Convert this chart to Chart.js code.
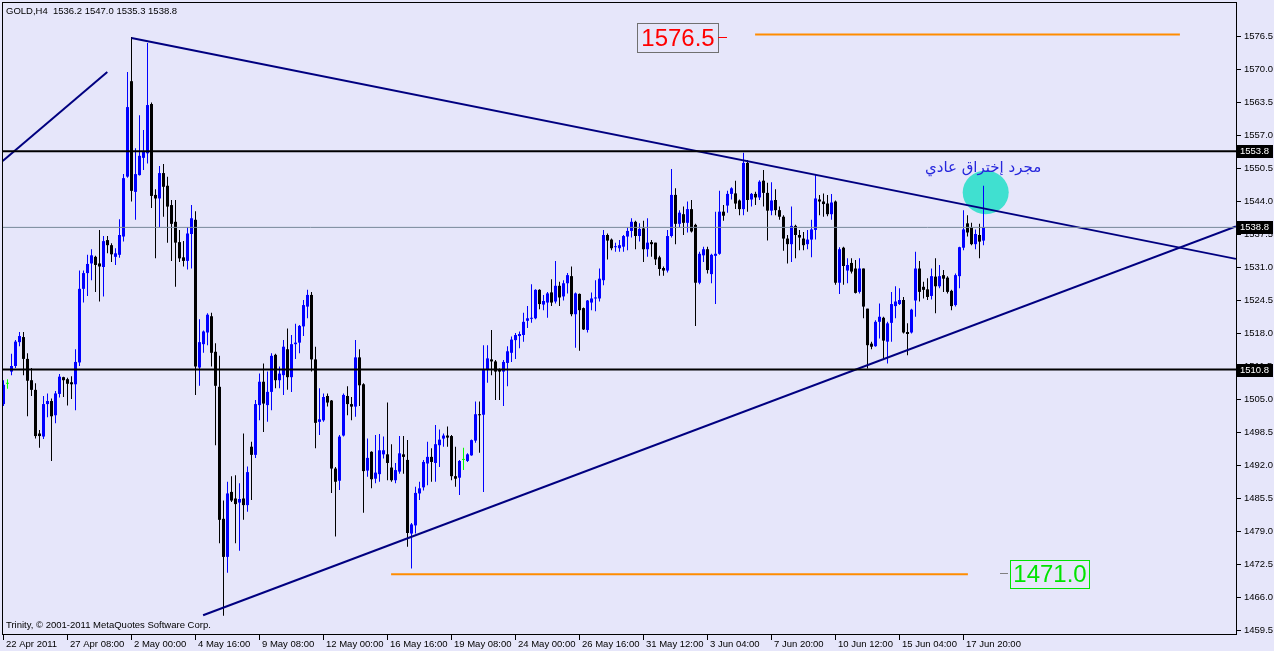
<!DOCTYPE html>
<html><head><meta charset="utf-8">
<script src="https://cdn.jsdelivr.net/npm/chart.js@4.4.0/dist/chart.umd.min.js"></script>
<style>html,body{margin:0;padding:0;background:#E6E6FA;overflow:hidden}canvas{display:block}</style>
</head><body>
<canvas id="c" width="1274" height="651"></canvas>
<script>
const SYMBOL = 'GOLD,H4';
const FOOTER = 'Trinity, \u00A9 2001-2011 MetaQuotes Software Corp.';
const NOTE = 'مجرد إختراق عادي';

const OPEN = [1504.0,1508.0,1510.4,1511.5,1516.2,1517.2,1512.9,1508.7,1506.8,1498.2,
1497.6,1504.0,1504.6,1501.8,1506.0,1509.3,1508.9,1508.3,1507.9,1512.2,
1526.7,1529.8,1531.7,1533.0,1531.7,1531.0,1536.3,1535.3,1533.0,1533.4,
1537.0,1548.8,1567.6,1545.8,1549.1,1552.5,1553.4,1563.1,1545.2,1544.5,
1549.5,1547.0,1543.2,1539.9,1535.9,1532.9,1532.2,1537.5,1540.3,1511.2,
1515.8,1518.1,1521.3,1514.3,1507.4,1481.4,1473.9,1486.7,1485.4,1484.6,
1485.4,1484.1,1495.6,1494.0,1503.8,1508.4,1503.8,1506.4,1513.7,1508.7,
1509.7,1514.8,1509.3,1515.8,1516.1,1519.3,1523.2,1525.5,1512.8,1500.5,
1500.8,1505.6,1504.7,1491.3,1488.9,1497.8,1505.6,1504.0,1503.5,1513.2,
1507.9,1490.9,1494.6,1489.3,1490.2,1494.1,1494.1,1491.5,1489.0,1490.7,
1494.1,1493.0,1478.5,1480.1,1486.4,1487.6,1492.3,1493.6,1492.4,1495.9,
1497.2,1497.8,1497.7,1489.8,1489.5,1493.0,1492.8,1493.9,1496.8,1502.0,
1501.9,1510.7,1512.8,1512.4,1510.8,1510.4,1512.1,1514.1,1516.6,1517.4,
1517.6,1520.4,1520.8,1520.9,1526.5,1523.6,1524.0,1526.0,1524.2,1527.3,
1525.2,1527.8,1529.2,1521.7,1525.7,1522.9,1518.6,1524.0,1524.8,1524.8,
1528.4,1537.3,1536.4,1534.9,1534.7,1535.0,1537.0,1538.1,1539.9,1537.1,
1538.6,1534.5,1535.9,1535.8,1532.9,1530.8,1530.3,1537.1,1545.2,1539.5,
1541.4,1539.7,1542.4,1539.3,1527.9,1533.3,1534.5,1529.6,1533.2,1533.6,
1541.9,1543.1,1545.4,1545.5,1544.1,1542.4,1551.5,1544.3,1545.4,1544.7,
1548.0,1545.6,1542.1,1544.2,1542.2,1540.9,1536.6,1535.5,1539.1,1537.3,
1536.6,1535.5,1536.4,1538.3,1544.3,1543.9,1543.5,1541.4,1543.9,1527.9,
1534.8,1530.3,1531.8,1530.7,1526.1,1530.7,1522.8,1515.9,1515.4,1520.2,
1521.0,1516.3,1520.0,1523.3,1523.7,1524.5,1518.2,1518.1,1524.4,1530.7,
1527.1,1526.6,1525.3,1529.1,1527.2,1529.4,1528.9,1526.3,1523.5,1529.2,
1534.8,1539.6,1538.8,1535.5,1537.3,1536.2];

const HIGH = [1508.7,1508.9,1513.9,1516.6,1518.2,1518.2,1514.0,1511.1,1508.1,1498.9,
1505.6,1506.1,1505.1,1506.6,1509.9,1509.4,1509.2,1509.5,1514.8,1530.3,
1530.3,1533.4,1534.5,1533.2,1538.3,1537.1,1537.1,1535.7,1534.7,1540.4,
1549.3,1569.4,1576.3,1554.4,1560.9,1558.0,1575.1,1563.4,1546.3,1550.9,
1551.3,1548.8,1544.2,1544.2,1538.3,1536.1,1538.9,1543.2,1542.0,1520.7,
1518.5,1521.9,1522.0,1516.0,1513.5,1485.0,1488.7,1489.8,1490.0,1488.4,
1498.2,1491.7,1496.6,1504.8,1510.0,1512.0,1510.4,1514.0,1513.9,1511.4,
1516.6,1518.9,1517.6,1519.8,1519.6,1524.5,1526.5,1526.1,1515.3,1507.1,
1506.1,1506.1,1504.8,1491.6,1497.9,1506.1,1507.5,1505.4,1516.6,1514.8,
1508.1,1497.2,1494.7,1497.9,1498.1,1497.6,1504.3,1496.1,1492.4,1497.7,
1497.7,1496.9,1480.6,1487.7,1488.7,1493.0,1496.6,1495.3,1499.9,1499.0,
1498.2,1499.6,1497.9,1495.6,1493.0,1495.4,1494.3,1497.0,1504.5,1504.5,
1515.6,1515.6,1518.6,1512.7,1511.0,1512.7,1515.4,1517.3,1518.0,1518.3,
1522.0,1523.3,1527.6,1526.6,1526.6,1525.5,1526.1,1528.6,1532.2,1528.1,
1528.4,1529.8,1531.1,1526.0,1525.8,1523.0,1524.5,1526.0,1528.4,1530.7,
1538.3,1537.6,1536.6,1535.8,1536.3,1537.3,1538.8,1540.6,1540.1,1539.6,
1540.1,1540.6,1536.3,1535.8,1533.2,1531.1,1538.3,1550.3,1546.5,1542.2,
1542.9,1543.9,1544.2,1539.5,1534.0,1535.0,1535.0,1533.6,1541.9,1546.0,
1543.2,1546.0,1546.7,1548.0,1544.3,1553.5,1552.1,1545.6,1545.8,1548.1,
1550.1,1547.6,1547.7,1546.3,1542.9,1541.2,1537.3,1542.9,1539.3,1538.3,
1537.9,1538.3,1540.3,1549.3,1545.2,1545.5,1545.2,1545.4,1544.1,1534.9,
1535.0,1532.7,1532.7,1532.4,1532.7,1530.7,1522.8,1516.3,1520.5,1523.8,
1521.2,1520.2,1526.1,1527.2,1526.8,1525.1,1519.9,1522.8,1534.0,1532.2,
1528.1,1528.8,1530.7,1532.7,1531.4,1530.4,1529.2,1526.5,1529.7,1535.0,
1542.2,1541.2,1539.7,1538.4,1539.5,1547.0];

const LOW = [1503.6,1507.0,1509.7,1511.1,1515.4,1509.7,1501.6,1505.6,1497.2,1495.4,
1497.1,1501.4,1492.8,1500.2,1505.3,1505.4,1503.7,1505.0,1502.8,1511.5,
1524.0,1525.3,1528.4,1526.1,1524.2,1525.2,1533.7,1532.0,1531.4,1532.8,
1536.0,1548.6,1543.9,1540.3,1549.0,1550.1,1551.4,1542.6,1532.7,1538.8,
1540.9,1535.8,1532.2,1527.1,1532.0,1531.1,1530.5,1530.7,1505.8,1507.6,
1514.1,1515.6,1511.4,1495.9,1476.6,1462.3,1470.8,1484.7,1476.6,1475.1,
1481.2,1482.8,1485.1,1493.4,1500.8,1498.5,1500.5,1502.8,1507.1,1507.1,
1505.8,1506.8,1506.4,1512.9,1514.0,1517.4,1520.9,1510.4,1495.3,1497.9,
1500.5,1503.5,1486.5,1477.9,1487.1,1497.6,1501.8,1500.8,1501.5,1503.6,
1482.6,1489.7,1487.4,1488.4,1488.7,1493.3,1489.0,1488.7,1488.4,1490.3,
1490.3,1475.9,1471.6,1478.5,1485.1,1487.0,1488.0,1488.7,1488.7,1491.6,
1495.6,1495.6,1489.0,1487.7,1486.1,1491.0,1492.6,1493.8,1496.4,1494.4,
1486.7,1508.2,1509.7,1504.8,1504.8,1503.6,1507.5,1512.3,1512.9,1515.0,
1516.3,1519.0,1520.0,1520.7,1522.7,1522.5,1521.0,1523.3,1523.8,1523.3,
1524.4,1525.8,1521.3,1515.1,1514.5,1518.6,1518.1,1522.5,1522.3,1524.2,
1527.4,1532.5,1534.3,1534.0,1534.0,1534.0,1534.3,1536.8,1534.5,1536.0,
1532.0,1533.0,1533.0,1531.4,1529.3,1529.3,1529.9,1536.8,1535.5,1538.8,
1537.3,1537.8,1537.8,1519.4,1527.6,1532.0,1529.7,1527.8,1523.7,1533.4,
1540.1,1541.7,1544.3,1542.4,1541.2,1541.2,1541.9,1542.9,1543.2,1544.2,
1542.9,1536.2,1541.2,1541.2,1540.3,1534.2,1531.7,1532.0,1532.7,1534.3,
1534.3,1534.5,1532.9,1536.4,1541.2,1540.9,1541.0,1540.3,1527.5,1525.7,
1527.5,1527.8,1529.7,1525.8,1525.8,1520.9,1511.0,1514.8,1515.3,1516.9,
1513.0,1512.0,1516.3,1520.9,1523.5,1517.9,1513.6,1517.9,1521.2,1524.2,
1524.8,1524.5,1524.6,1521.9,1526.8,1526.1,1525.8,1522.5,1523.2,1526.8,
1534.3,1537.0,1535.3,1534.5,1532.7,1535.3];

const CLOSE = [1507.8,1508.0,1511.5,1516.3,1517.4,1512.9,1508.6,1506.8,1497.7,1497.7,
1504.0,1504.6,1501.6,1506.1,1509.4,1508.7,1508.0,1507.9,1512.3,1526.7,
1529.8,1531.6,1533.3,1531.4,1531.1,1536.1,1535.3,1533.5,1533.7,1537.3,
1548.5,1562.5,1546.0,1549.3,1552.9,1553.7,1562.9,1545.0,1544.5,1549.5,
1546.8,1542.9,1539.5,1535.8,1532.7,1532.2,1537.6,1540.6,1511.4,1516.2,
1518.3,1521.6,1514.1,1507.6,1481.2,1473.9,1486.4,1485.0,1484.3,1485.3,
1484.1,1490.6,1494.0,1504.0,1508.4,1504.1,1506.4,1513.5,1508.7,1510.0,
1515.3,1509.3,1515.8,1516.1,1519.4,1523.5,1525.5,1512.8,1500.3,1501.0,
1505.4,1504.3,1491.3,1488.7,1497.6,1505.8,1504.0,1503.5,1513.2,1507.7,
1490.8,1493.4,1489.2,1490.5,1494.9,1494.9,1492.4,1489.0,1491.0,1494.3,
1493.6,1478.6,1480.3,1486.5,1487.4,1492.6,1493.6,1492.6,1496.1,1497.0,
1497.8,1497.4,1489.8,1489.3,1492.8,1493.0,1494.1,1496.9,1502.0,1501.8,
1510.7,1513.0,1512.4,1510.4,1510.4,1512.3,1514.4,1516.7,1517.6,1517.8,
1520.2,1520.9,1520.9,1526.5,1523.7,1524.3,1525.8,1524.0,1527.3,1525.0,
1527.8,1529.4,1521.7,1525.8,1522.5,1518.7,1524.4,1524.8,1525.0,1528.7,
1537.3,1536.2,1534.7,1535.1,1535.3,1537.1,1538.1,1539.9,1537.1,1538.5,
1534.5,1535.8,1535.5,1532.5,1530.6,1530.3,1537.1,1545.2,1539.5,1541.7,
1539.7,1542.4,1538.0,1527.9,1533.6,1534.5,1530.4,1533.4,1533.6,1541.9,
1541.1,1545.4,1546.5,1543.5,1542.4,1551.5,1544.2,1545.4,1544.7,1547.8,
1545.6,1542.1,1544.1,1542.2,1540.9,1536.6,1535.5,1539.1,1537.3,1536.8,
1535.3,1536.4,1538.4,1544.5,1543.9,1543.4,1541.4,1543.7,1527.9,1534.5,
1531.2,1531.4,1530.1,1525.9,1530.7,1523.2,1515.6,1515.3,1520.2,1521.2,
1516.5,1519.9,1523.7,1524.2,1524.5,1518.1,1517.8,1522.6,1530.7,1526.1,
1526.5,1525.1,1529.2,1527.2,1529.2,1528.7,1526.1,1523.3,1529.4,1534.9,
1538.4,1537.8,1535.5,1537.5,1536.0,1538.8];

const X_TICK_INDEX = [0,16,32,48,64,80,96,112,128,144,160,176,192,208,224,240];
const X_TICK_LABELS = ['22 Apr 2011','27 Apr 08:00','2 May 00:00','4 May 16:00','9 May 08:00','12 May 00:00','16 May 16:00','19 May 08:00','24 May 00:00','26 May 16:00','31 May 12:00','3 Jun 04:00','7 Jun 20:00','10 Jun 12:00','15 Jun 04:00','17 Jun 20:00'];
const Y_TICKS = [1576.5,1570.0,1563.5,1557.0,1550.5,1544.0,1537.5,1531.0,1524.5,1518.0,1511.5,1505.0,1498.5,1492.0,1485.5,1479.0,1472.5,1466.0,1459.5];

const LEVELS = [1553.8, 1510.8];
const BID = CLOSE[CLOSE.length - 1];
const UPPER_TREND = [[32, 1576.1], [308.1, 1532.6]];
const LOWER_TREND = [[49.9, 1462.4], [308.1, 1539.0]];
const SHORT_TREND = [[-0.2, 1551.9], [25.95, 1569.4]];
const TARGET_HIGH = 1576.5;
const TARGET_LOW = 1471.0;
const TARGET_HIGH_LINE = [[187.9, 1576.8], [294.1, 1576.8]];
const TARGET_LOW_LINE = [[96.9, 1470.5], [241.1, 1470.5]];

const X_MIN = -0.375, X_MAX = 308.125;
const Y_MAX = 1583.197, Y_MIN = 1458.712;
const BG = '#E6E6FA';
const FONT = '9.5px "Liberation Sans", Arial, sans-serif';

const colorOf = i => CLOSE[i] > OPEN[i] ? '#0000FF' : (CLOSE[i] < OPEN[i] ? '#000000' : '#00FF00');
const candleColors = OPEN.map((_, i) => colorOf(i));
const bodies = OPEN.map((o, i) => ({x: i, y: [o, CLOSE[i]]}));
const wicks = OPEN.map((_, i) => ({x: i, y: [LOW[i], HIGH[i]]}));
const pts = arr => arr.map(p => ({x: p[0], y: p[1]}));
const hline = v => [{x: X_MIN, y: v}, {x: X_MAX, y: v}];
const lineDs = (data, color, width) => ({type: 'line', data, borderColor: color, borderWidth: width, pointRadius: 0, fill: false, tension: 0, order: 0});

const decor = {
  id: 'decor',
  beforeDraw(chart) {
    const c = chart.ctx; c.save(); c.fillStyle = BG; c.fillRect(0, 0, chart.width, chart.height); c.restore();
  },
  beforeDatasetsDraw(chart) {
    const xs = chart.scales.x, ys = chart.scales.y, c = chart.ctx;
    const x0 = xs.getPixelForValue(239.8), x1 = xs.getPixelForValue(251.3);
    const y0 = ys.getPixelForValue(1550.0), y1 = ys.getPixelForValue(1541.4);
    c.save(); c.fillStyle = '#40E0D0'; c.beginPath();
    c.ellipse((x0 + x1) / 2, (y0 + y1) / 2, Math.abs(x1 - x0) / 2, Math.abs(y1 - y0) / 2, 0, 0, Math.PI * 2);
    c.fill(); c.restore();
  },
  afterDraw(chart) {
    const xs = chart.scales.x, ys = chart.scales.y, a = chart.chartArea, c = chart.ctx;
    c.save();
    c.strokeStyle = '#000'; c.lineWidth = 1;
    c.strokeRect(a.left + 0.5, a.top + 0.5, a.right - a.left, a.bottom - a.top);
    c.fillStyle = '#000'; c.font = FONT; c.textBaseline = 'middle'; c.textAlign = 'left';
    Y_TICKS.forEach(v => {
      const py = Math.round(ys.getPixelForValue(v));
      c.fillRect(a.right + 1, py, 4, 1);
      c.fillText(v.toFixed(1), a.right + 8, py + 0.5);
    });
    X_TICK_INDEX.forEach((v, k) => {
      const px = Math.floor(xs.getPixelForValue(v));
      c.fillRect(px, a.bottom + 1, 1, 5);
      c.fillText(X_TICK_LABELS[k], px + 3, a.bottom + 10);
    });
    [LEVELS[0], BID, LEVELS[1]].forEach(v => {
      const py = Math.round(ys.getPixelForValue(v));
      c.fillStyle = '#000'; c.fillRect(a.right + 1, py - 6, 36, 13);
      c.fillStyle = '#fff'; c.fillText(v.toFixed(1), a.right + 4, py + 0.5);
    });
    const n = CLOSE.length - 1;
    c.fillStyle = '#000';
    c.fillText(`${SYMBOL}  ${OPEN[n].toFixed(1)} ${HIGH[n].toFixed(1)} ${LOW[n].toFixed(1)} ${CLOSE[n].toFixed(1)}`, 6, 11);
    c.fillText(FOOTER, 6, 625);

    const box = (v, bx0, bx1, by0, by1, color, border) => {
      const X0 = Math.round(xs.getPixelForValue(bx0)) + 0.5, X1 = Math.round(xs.getPixelForValue(bx1)) + 0.5;
      const Y0 = Math.round(ys.getPixelForValue(by0)) + 0.5, Y1 = Math.round(ys.getPixelForValue(by1)) + 0.5;
      c.fillStyle = BG; c.fillRect(X0, Y0, X1 - X0, Y1 - Y0);
      c.strokeStyle = border; c.lineWidth = 1; c.strokeRect(X0, Y0, X1 - X0, Y1 - Y0);
      c.fillStyle = color; c.font = '24px "Liberation Sans", Arial, sans-serif';
      c.textAlign = 'center'; c.textBaseline = 'middle';
      c.fillText(v.toFixed(1), (X0 + X1) / 2, (Y0 + Y1) / 2 + 1);
    };
    box(TARGET_HIGH, 158.4, 178.6, 1579.1, 1573.4, '#FF0000', '#707070');
    c.fillStyle = '#FF0000';
    c.fillRect(Math.round(xs.getPixelForValue(178.6)), Math.round(ys.getPixelForValue(1576.3)), 9, 1);
    box(TARGET_LOW, 251.6, 271.4, 1473.3, 1467.8, '#00E400', '#00E400');
    c.fillStyle = '#808080';
    c.fillRect(Math.round(xs.getPixelForValue(249.1)), Math.round(ys.getPixelForValue(1470.7)), 8, 1);

    c.fillStyle = '#2626DC'; c.font = '15px "DejaVu Sans", sans-serif';
    c.textAlign = 'center'; c.textBaseline = 'middle';
    c.fillText(NOTE, xs.getPixelForValue(244.9), ys.getPixelForValue(1550.5));
    c.restore();
  }
};

new Chart(document.getElementById('c'), {
  type: 'bar',
  data: {
    datasets: [
      lineDs(hline(BID), '#778899', 1),
      lineDs(hline(LEVELS[0]), '#000000', 2),
      lineDs(hline(LEVELS[1]), '#000000', 2),
      lineDs(pts(UPPER_TREND), '#000080', 2),
      lineDs(pts(LOWER_TREND), '#000080', 2),
      lineDs(pts(SHORT_TREND), '#000080', 2),
      lineDs(pts(TARGET_HIGH_LINE), '#FF8C00', 2),
      lineDs(pts(TARGET_LOW_LINE), '#FF8C00', 2),
      {type: 'bar', data: bodies, backgroundColor: candleColors, barThickness: 3, maxBarThickness: 3,
       grouped: false, inflateAmount: 0, borderWidth: 0, minBarLength: 1, order: 1},
      {type: 'bar', data: wicks, backgroundColor: candleColors, barThickness: 1, maxBarThickness: 1,
       grouped: false, inflateAmount: 0, borderWidth: 0, order: 2}
    ]
  },
  options: {
    responsive: false, animation: false, devicePixelRatio: 1, events: [],
    layout: {padding: {left: 2, top: 2, right: 38, bottom: 17}},
    scales: {
      x: {type: 'linear', min: X_MIN, max: X_MAX, offset: false, display: false,
          afterBuildTicks: s => { s.ticks = X_TICK_INDEX.map(v => ({value: v})); }},
      y: {type: 'linear', min: Y_MIN, max: Y_MAX, offset: false, display: false,
          afterBuildTicks: s => { s.ticks = Y_TICKS.map(v => ({value: v})); }}
    },
    plugins: {legend: {display: false}, tooltip: {enabled: false}}
  },
  plugins: [decor]
});
</script>
</body></html>
